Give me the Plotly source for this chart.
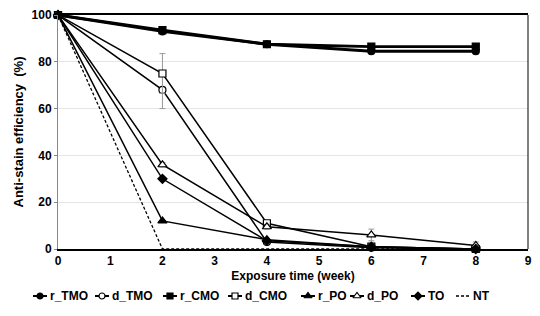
import plotly.graph_objects as go

weeks = [0, 2, 4, 6, 8]
series_names = ["r_TMO", "d_TMO", "r_CMO", "d_CMO", "r_PO", "d_PO", "TO", "NT"]
r_TMO = [100, 93, 87.5, 84.5, 84.5]
d_TMO = [100, 68, 3, 0.5, 0]
r_CMO = [100, 93.5, 87.5, 86.5, 86.5]
d_CMO = [100, 75, 11, 1, 0]
r_PO = [100, 12, 4, 1, 0]
d_PO = [100, 36, 9.5, 6, 1.5]
TO = [100, 30, 3.5, 1, 0]
NT = [100, 0, 0, 0, 0]
err_d_TMO = [0, 8, 1, 0, 0]
err_d_CMO = [0, 8.5, 1, 0, 0]
err_d_PO = [0, 1, 1, 2.5, 1.5]
zero_err = [0, 0, 0, 0, 0]

values = [r_TMO, d_TMO, r_CMO, d_CMO, r_PO, d_PO, TO, NT]
errors = [zero_err, err_d_TMO, zero_err, err_d_CMO, zero_err, err_d_PO, zero_err, zero_err]
symbols = ["circle", "circle-open", "square", "square-open", "triangle-up", "triangle-up-open", "diamond", None]
widths = [2.8, 1.5, 2.8, 1.5, 1.5, 1.5, 1.5, 1.3]

# custom legend layout (pixel positions of each entry's text start)
legend_text_x = [50, 112, 180, 245, 318, 367, 428, 473]

FONT = "Liberation Sans, Arial, sans-serif"
W, H = 540, 316
ML, MR, MT, MB = 20, 12, 15, 10
PW = W - ML - MR
PH = H - MT - MB
MAIN_LEFT_PX = 58
MAIN_BOTTOM_PX = 249


def marker_style(s, size=None):
    open_ = s.endswith("open")
    msym = s.replace("-open", "")
    if size is None:
        size = 8 if "triangle" in s else 7
    return dict(symbol=msym, size=size,
                color="white" if open_ else "black",
                line=dict(color="black", width=1.2))


fig = go.Figure()
for name, v, e, s, w in zip(series_names, values, errors, symbols, widths):
    if s is None:
        fig.add_trace(go.Scatter(x=weeks, y=v, name=name, mode="lines",
                                 line=dict(color="black", width=w, dash="3px,2px"),
                                 cliponaxis=False, showlegend=False))
    else:
        fig.add_trace(go.Scatter(
            x=weeks, y=v, name=name, mode="lines+markers",
            line=dict(color="black", width=w),
            marker=marker_style(s),
            error_y=dict(type="data", array=e, visible=True, color="#999999",
                         thickness=1, width=3),
            cliponaxis=False, showlegend=False))

# legend drawn on a helper axis pair (pixel units)
for name, s, w, tx in zip(series_names, symbols, widths, legend_text_x):
    x0, x1 = tx - 17, tx - 3
    if s is None:
        fig.add_trace(go.Scatter(x=[x0, x1], y=[0, 0], mode="lines",
                                 line=dict(color="black", width=1.3, dash="3px,2px"),
                                 xaxis="x2", yaxis="y2", showlegend=False,
                                 cliponaxis=False, hoverinfo="skip"))
    else:
        fig.add_trace(go.Scatter(x=[x0, x1], y=[0, 0], mode="lines",
                                 line=dict(color="black", width=2),
                                 xaxis="x2", yaxis="y2", showlegend=False,
                                 cliponaxis=False, hoverinfo="skip"))
        fig.add_trace(go.Scatter(x=[(x0 + x1) / 2], y=[0], mode="markers",
                                 marker=marker_style(s, 7 if "triangle" in s else 6),
                                 xaxis="x2", yaxis="y2", showlegend=False,
                                 cliponaxis=False, hoverinfo="skip"))
    fig.add_annotation(x=tx, y=0, xref="x2", yref="y2", text=name,
                       showarrow=False, xanchor="left", yanchor="middle", xshift=-2,
                       font=dict(family=FONT, size=12, color="black", weight="bold"))

dom_y0 = (H - MB - MAIN_BOTTOM_PX) / PH
dom_x0 = (MAIN_LEFT_PX - ML) / PW

fig.update_layout(
    width=W, height=H,
    margin=dict(l=ML, r=MR, t=MT, b=MB),
    paper_bgcolor="white", plot_bgcolor="white",
    font=dict(family=FONT, size=12, color="black"),
    showlegend=False,
    xaxis=dict(range=[0, 9], dtick=1, tick0=0, showgrid=False, zeroline=False,
               showline=True, linecolor="black", linewidth=1.5, mirror=True,
               domain=[dom_x0, 1],
               tickfont=dict(size=12, weight="bold"), anchor="y", automargin=False,
               title=dict(text="Exposure time (week)", font=dict(size=12, weight="bold"), standoff=4)),
    yaxis=dict(range=[0, 100], dtick=20, showgrid=True, gridcolor="#e6e6e6", gridwidth=1,
               zeroline=False, showline=True, linecolor="#888888", linewidth=1,
               ticks="outside", ticklen=3, tickcolor="#888888", domain=[dom_y0, 1],
               tickfont=dict(size=12, weight="bold"), automargin=False, anchor="x",
               title=dict(text="Anti-stain efficiency  (%)", font=dict(size=13, weight="bold"), standoff=5)),
    xaxis2=dict(domain=[0, 1], range=[ML, ML + PW], visible=False, anchor="y2"),
    yaxis2=dict(domain=[0, 20 / PH], range=[-10, 10], visible=False, anchor="x2"),
)
fig.add_shape(type="line", xref="x domain", yref="y domain", x0=1, x1=1, y0=0, y1=1,
              line=dict(color="black", width=1))

fig.write_html("out.html", config={"displayModeBar": False},
               post_script="document.body.style.margin='0';document.body.style.overflow='hidden';")
